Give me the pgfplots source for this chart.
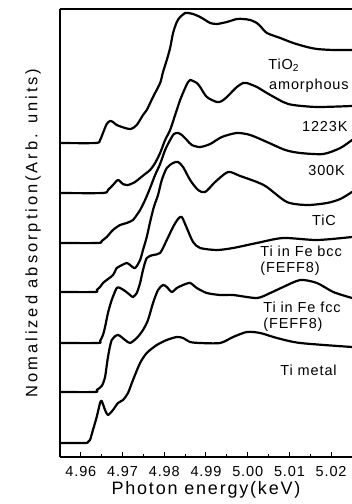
\documentclass[border=0pt]{standalone}
\usepackage{fontspec}
\setmainfont{Liberation Sans}
\newfontfamily\lspA{Liberation Sans}[LetterSpace=6]
\newfontfamily\lspC{Liberation Sans}[LetterSpace=10]
\newfontfamily\lspB{Liberation Sans}[LetterSpace=18]
\usepackage{pgfplots}
\pgfplotsset{compat=1.18}

\begin{document}
\begin{tikzpicture}
\useasboundingbox (-60pt,-47pt) rectangle (292pt,457pt);
\begin{axis}[
  scale only axis, width=292pt, height=448pt,
  xmin=4.955, xmax=5.025, ymin=0, ymax=448,
  axis x line*=box, axis y line*=left,
  axis line style={line width=1.1pt},
  ytick=\empty,
  xtick={4.96,4.97,4.98,4.99,5.00,5.01,5.02},
  minor x tick num=1,
  xtick pos=left, tick align=inside,
  major tick length=5pt, minor tick length=3pt,
  tick style={line width=1pt, black},
  xticklabel style={font=\fontsize{14.5}{16}\selectfont\lspA, anchor=center, yshift=-15pt,
    /pgf/number format/.cd, fixed, fixed zerofill, precision=2, assume math mode=true},
  xlabel={Photon energy(keV)},
  x label style={at={(axis description cs:0.5,-0.0737)}, anchor=center, font=\fontsize{18}{21}\selectfont\lspC},
  ylabel={Nomalized absorption(Arb. units)},
  y label style={at={(axis description cs:-0.0925,0.5)}, anchor=center, font=\fontsize{16.5}{19}\selectfont\lspB},
  curve/.style={black, line width=2.2pt, smooth, tension=0.45, line join=round, line cap=round, no markers},
  clip=true,
]
% TiO2 amorphous
\addplot[curve] coordinates {(4.9550,314)(4.9636,314)(4.9646,317)(4.9653,324)(4.9662,333)(4.9670,336)(4.9677,335)(4.9686,332)(4.9706,329)(4.9720,328)(4.9734,332)(4.9749,342)(4.9758,347)(4.9773,360)(4.9790,374)(4.9797,385)(4.9806,397)(4.9814,409)(4.9821,424)(4.9830,435)(4.9838,440)(4.9850,444)(4.9857,444)(4.9869,443)(4.9886,440)(4.9898,437)(4.9910,434)(4.9926,433)(4.9950,435)(4.9974,438)(4.9989,438)(5.0006,437)(5.0022,434)(5.0030,431)(5.0046,424)(5.0078,419)(5.0109,414)(5.0142,410)(5.0166,408)(5.0205,407)(5.0250,407)};
% 1223K
\addplot[curve] coordinates {(4.9550,264)(4.9653,264)(4.9665,267)(4.9677,272)(4.9689,277)(4.9701,273)(4.9713,272)(4.9730,275)(4.9742,279)(4.9754,283)(4.9766,287)(4.9778,294)(4.9790,304)(4.9802,317)(4.9814,327)(4.9826,342)(4.9838,357)(4.9850,369)(4.9857,375)(4.9862,377)(4.9869,376)(4.9878,374)(4.9886,370)(4.9902,360)(4.9926,355)(4.9938,356)(4.9950,360)(4.9974,370)(4.9989,374)(4.9998,374)(5.0022,370)(5.0046,364)(5.0085,355)(5.0109,352)(5.0166,350)(5.0250,351)};
% 300K
\addplot[curve] coordinates {(4.9550,214)(4.9641,214)(4.9650,216)(4.9662,220)(4.9677,227)(4.9694,232)(4.9710,234)(4.9725,237)(4.9734,242)(4.9742,247)(4.9754,257)(4.9766,269)(4.9778,282)(4.9790,293)(4.9802,307)(4.9814,317)(4.9823,323)(4.9833,324)(4.9842,322)(4.9854,317)(4.9866,312)(4.9886,310)(4.9910,313)(4.9938,320)(4.9974,324)(5.0006,322)(5.0046,315)(5.0090,307)(5.0126,304)(5.0181,303)(5.0222,309)(5.0250,317)};
% TiC
\addplot[curve] coordinates {(4.9550,165)(4.9634,165)(4.9638,167)(4.9646,170)(4.9653,174)(4.9662,177)(4.9677,182)(4.9686,189)(4.9694,191)(4.9710,194)(4.9718,192)(4.9730,189)(4.9742,197)(4.9749,207)(4.9758,220)(4.9766,235)(4.9775,250)(4.9785,262)(4.9794,277)(4.9806,289)(4.9821,294)(4.9833,295)(4.9845,290)(4.9862,277)(4.9881,267)(4.9898,265)(4.9922,275)(4.9953,285)(4.9982,281)(5.0022,275)(5.0046,270)(5.0094,255)(5.0142,252)(5.0190,254)(5.0222,258)(5.0250,265)};
% Ti in Fe bcc
\addplot[curve] coordinates {(4.9550,114)(4.9641,114)(4.9646,116)(4.9653,122)(4.9658,130)(4.9665,144)(4.9674,157)(4.9686,169)(4.9694,169)(4.9706,166)(4.9718,162)(4.9725,160)(4.9734,164)(4.9742,174)(4.9749,187)(4.9758,199)(4.9773,202)(4.9790,204)(4.9806,217)(4.9821,230)(4.9833,238)(4.9842,240)(4.9854,229)(4.9869,215)(4.9886,209)(4.9926,207)(4.9965,209)(5.0022,214)(5.0085,219)(5.0166,217)(5.0250,220)};
% Ti in Fe fcc
\addplot[curve] coordinates {(4.9550,65)(4.9634,65)(4.9638,67)(4.9650,71)(4.9658,80)(4.9665,100)(4.9674,117)(4.9689,122)(4.9706,117)(4.9718,114)(4.9734,119)(4.9749,127)(4.9761,137)(4.9773,154)(4.9785,167)(4.9797,172)(4.9806,170)(4.9818,165)(4.9830,169)(4.9845,172)(4.9862,174)(4.9878,169)(4.9902,164)(4.9934,162)(4.9965,162)(5.0022,159)(5.0054,164)(5.0085,170)(5.0126,177)(5.0166,174)(5.0205,165)(5.0250,159)};
% Ti metal
\addplot[curve] coordinates {(4.9550,14)(4.9610,14)(4.9617,15)(4.9622,17)(4.9629,27)(4.9638,40)(4.9646,54)(4.9650,56)(4.9658,47)(4.9665,42)(4.9677,47)(4.9689,54)(4.9701,57)(4.9713,64)(4.9725,77)(4.9742,94)(4.9758,104)(4.9782,112)(4.9806,117)(4.9830,120)(4.9845,119)(4.9862,115)(4.9886,114)(4.9934,114)(4.9965,120)(4.9998,125)(5.0030,124)(5.0070,119)(5.0126,114)(5.0250,110)};

\begin{scope}[every node/.style={anchor=west, inner sep=0pt, font=\fontsize{14.5}{16}\selectfont\lspA}]
\node at (axis cs:5.0049,392) {TiO\textsubscript{2}};
\node at (axis cs:5.0051,371) {amorphous};
\node at (axis cs:5.0130,330) {1223K};
\node at (axis cs:5.0145,286) {300K};
\node at (axis cs:5.0154,237) {TiC};
\node at (axis cs:5.0030,206) {Ti in Fe bcc};
\node at (axis cs:5.0030,188) {(FEFF8)};
\node at (axis cs:5.0037,150) {Ti in Fe fcc};
\node at (axis cs:5.0037,132) {(FEFF8)};
\node at (axis cs:5.0078,87) {Ti metal};
\end{scope}
\end{axis}
\end{tikzpicture}
\end{document}
